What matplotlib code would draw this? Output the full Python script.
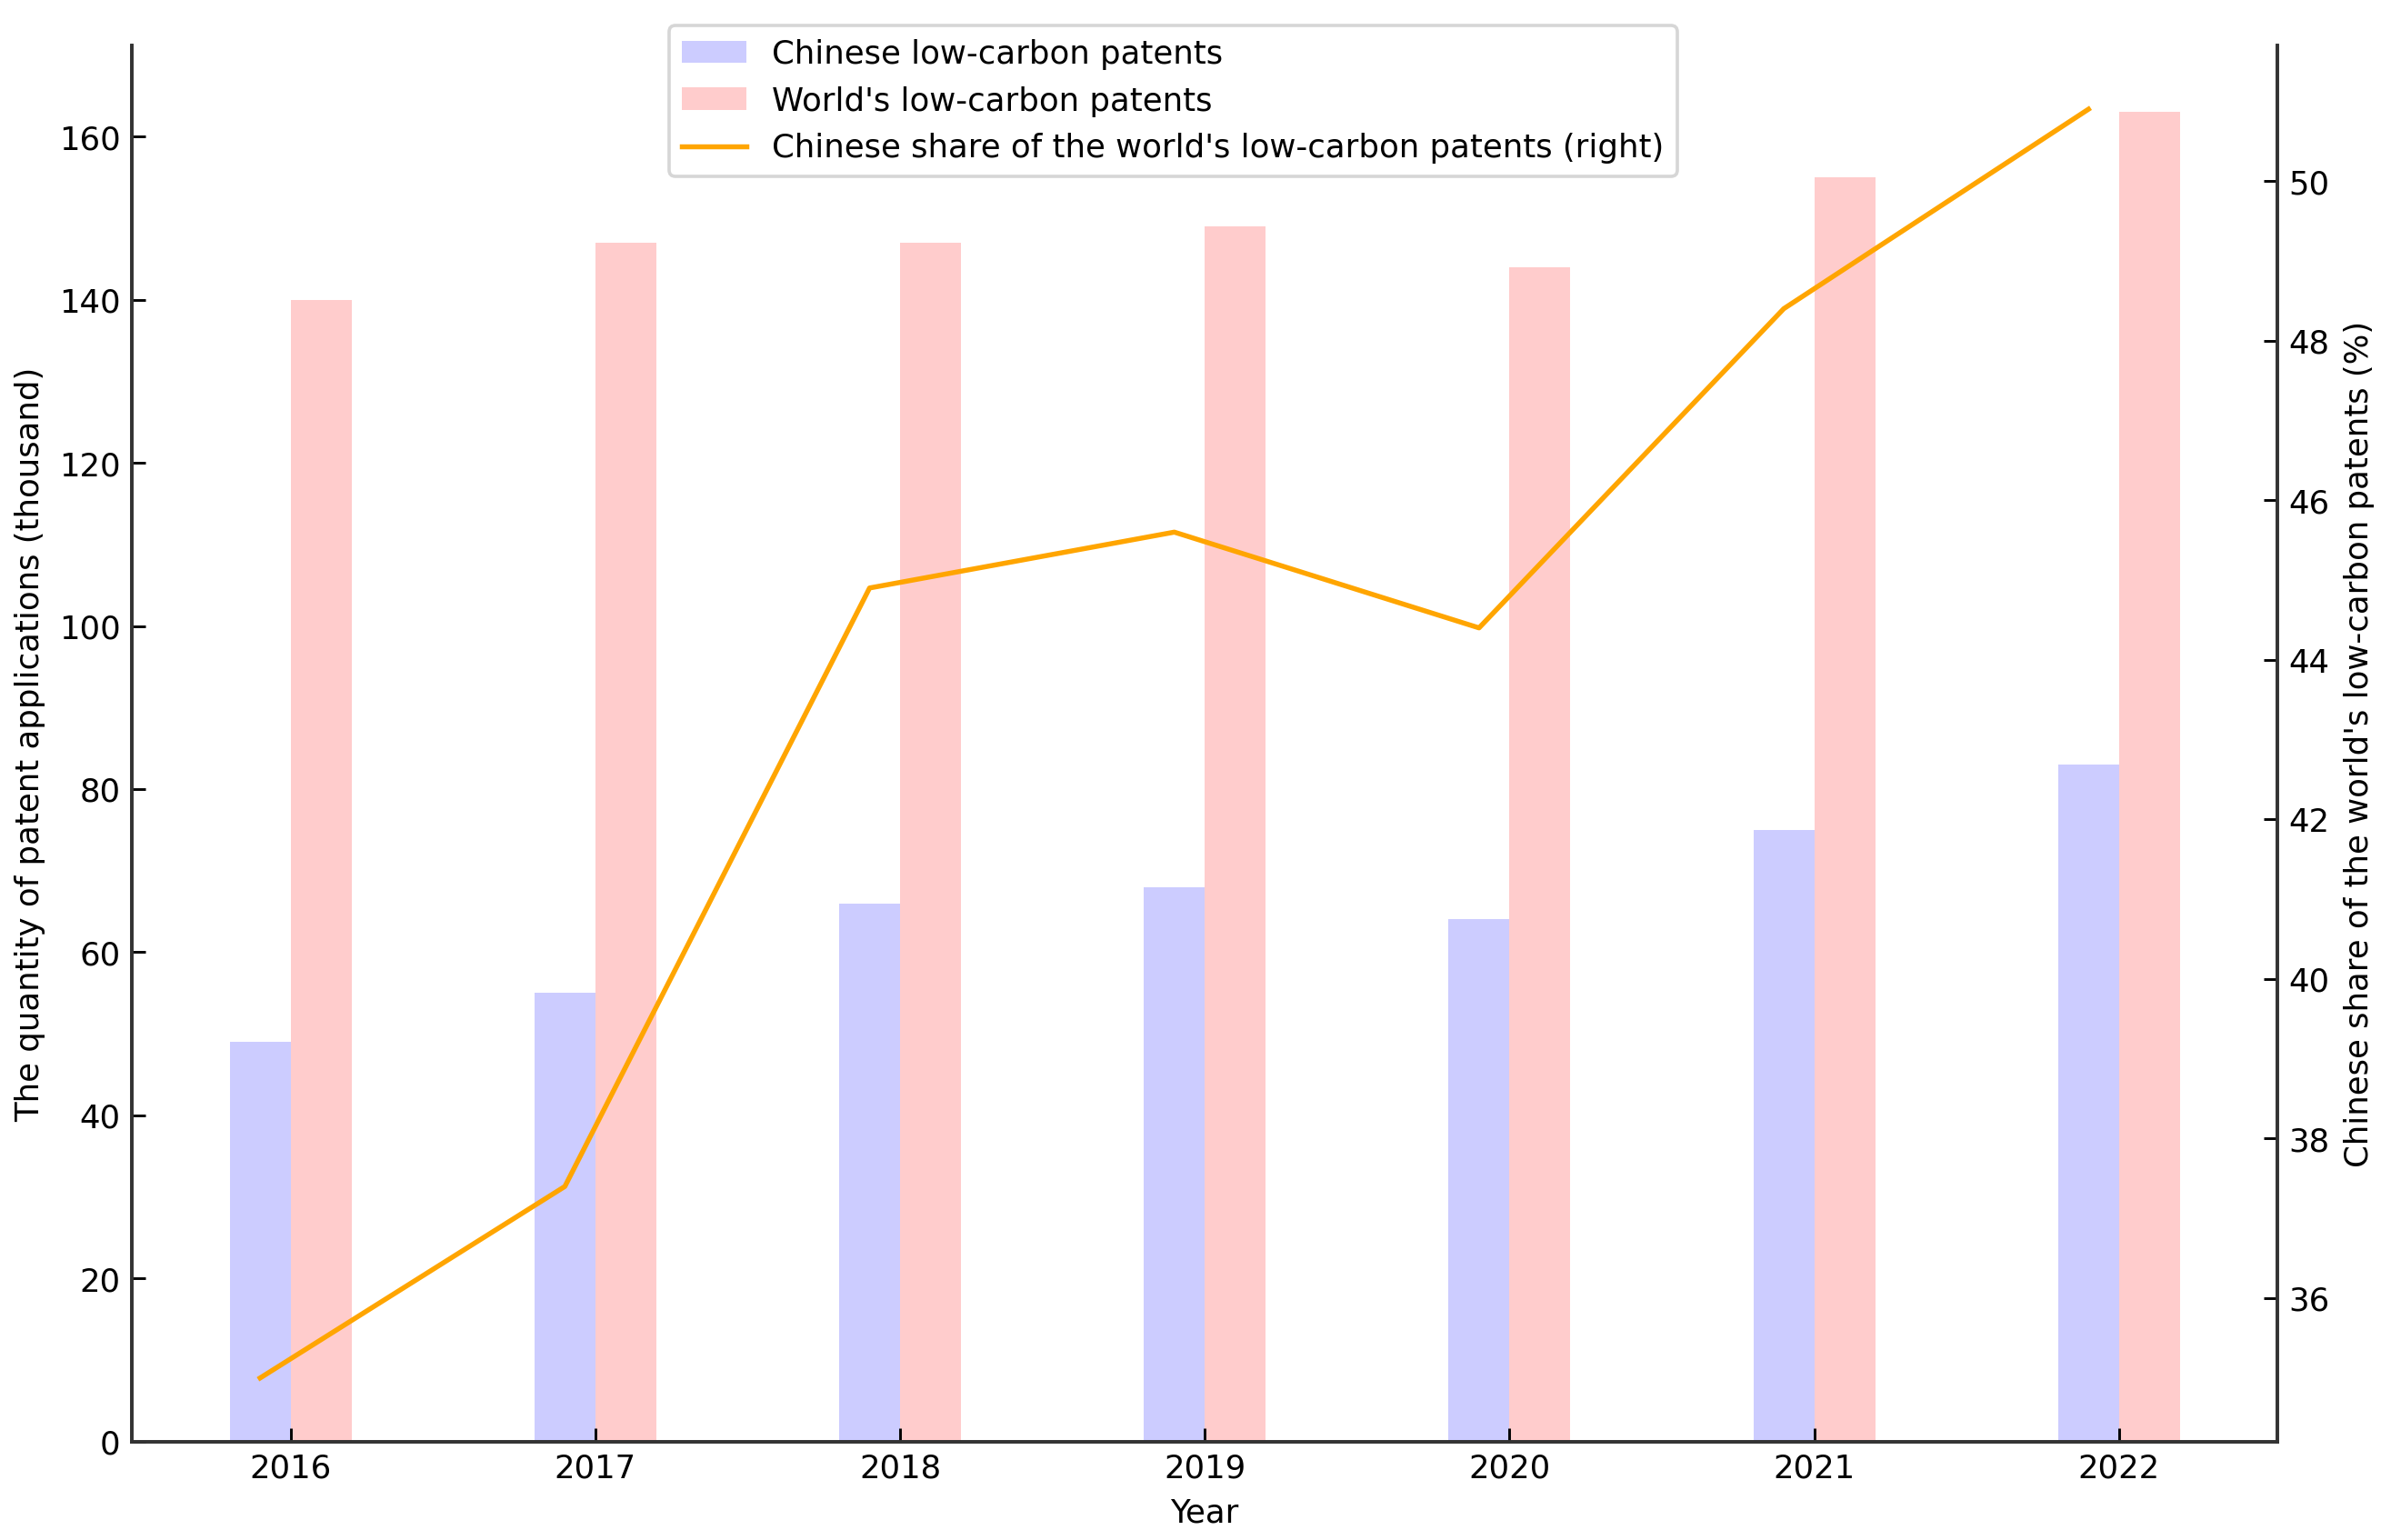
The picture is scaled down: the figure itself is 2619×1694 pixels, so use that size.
import matplotlib
matplotlib.use("Agg")
import matplotlib.pyplot as plt
import numpy as np

plt.rcParams["font.family"] = ["DejaVu Sans"]
plt.rcParams["font.size"] = 9.75

# data (thousand applications / share in %)
years = ["2016", "2017", "2018", "2019", "2020", "2021", "2022"]
china_patents = [49, 55, 66, 68, 64, 75, 83]
world_patents = [140, 147, 147, 149, 144, 155, 163]
china_share = [35.0, 37.4, 44.9, 45.6, 44.4, 48.4, 50.9]

x = np.arange(len(years))
w = 0.2

fig = plt.figure(figsize=(10, 6.47), dpi=261.9)
ax = fig.add_axes([0.0555, 0.064, 0.901, 0.906])
ax2 = ax.twinx()

b1 = ax.bar(x - w / 2, china_patents, w, color="blue", alpha=0.2,
            label="Chinese low-carbon patents")
b2 = ax.bar(x + w / 2, world_patents, w, color="red", alpha=0.2,
            label="World's low-carbon patents")
l1, = ax2.plot(x - w / 2, china_share, color="orange", lw=1.5,
               label="Chinese share of the world's low-carbon patents (right)")

ax.set_xticks(x)
ax.set_xticklabels(years)
ax.set_xlabel("Year")
ax.set_ylabel("The quantity of patent applications (thousand)")
ax2.set_ylabel("Chinese share of the world's low-carbon patents (%)")

for a in (ax, ax2):
    a.spines["top"].set_visible(False)
    a.tick_params(direction="in", length=4)
    for s in a.spines.values():
        s.set_color("#333333")
        s.set_linewidth(1.0)

fig.legend([b1, b2, l1], [b1.get_label(), b2.get_label(), l1.get_label()],
           loc="upper left", bbox_to_anchor=(0.281, 0.983), borderaxespad=0)

plt.savefig("out.png", dpi=261.9, facecolor="white")
